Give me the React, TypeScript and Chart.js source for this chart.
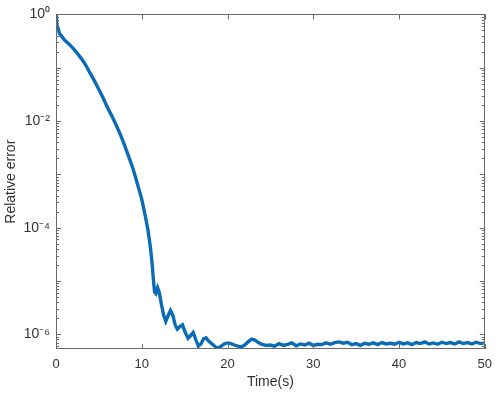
import React, { useEffect, useRef } from "react";
import { Chart, registerables } from "chart.js";

Chart.register(...registerables);

// Time (s)
const TIME: number[] = [
  0, 0.05, 0.12, 0.25, 0.4, 0.6, 1.0, 1.5, 2.0, 2.5, 3.0, 3.5, 4.0, 4.5, 5.0, 5.5, 6.0, 6.5, 7.0, 7.5,
  8.0, 8.5, 9.0, 9.5, 10.0, 10.4, 10.7, 11.0, 11.2, 11.35, 11.5, 11.65, 11.85, 12.05, 12.3, 12.55, 12.8,
  13.05, 13.35, 13.65, 13.9, 14.15, 14.45, 14.75, 15.05, 15.4, 15.7, 16.0, 16.3, 16.6, 16.9, 17.2, 17.5,
  17.8, 18.2, 18.6, 18.9, 19.2, 19.6, 20.0, 20.4, 20.8, 21.2, 21.6, 22.0, 22.4, 22.8, 23.2, 23.6, 24.0,
  24.5, 25.0, 25.5, 26.0, 26.5, 27.0, 27.5, 28.0, 28.5, 29.0, 29.5, 30.0, 30.5, 31.0, 31.5, 32.0, 32.5,
  33.0, 33.5, 34.0, 34.5, 35.0, 35.5, 36.0, 36.5, 37.0, 37.5, 38.0, 38.5, 39.0, 39.5, 40.0, 40.5, 41.0,
  41.5, 42.0, 42.5, 43.0, 43.5, 44.0, 44.5, 45.0, 45.5, 46.0, 46.5, 47.0, 47.5, 48.0, 48.5, 49.0, 49.5, 50.0,
];

// Relative error
const REL_ERROR: number[] = [
  1.0, 0.85, 0.62, 0.55, 0.44, 0.4, 0.33, 0.28, 0.23, 0.185, 0.145, 0.11, 0.078, 0.056, 0.039, 0.027, 0.018,
  0.0125, 0.0085, 0.0056, 0.0035, 0.0021, 0.00125, 6.6e-4, 3.4e-4, 1.7e-4, 9.5e-5, 4.4e-5, 2.2e-5, 1.1e-5,
  6.2e-6, 5.8e-6, 7.4e-6, 6.0e-6, 3.6e-6, 2.3e-6, 1.75e-6, 2.2e-6, 2.8e-6, 2.2e-6, 1.5e-6, 1.25e-6, 1.4e-6,
  1.5e-6, 1.1e-6, 8.4e-7, 9.5e-7, 1.08e-6, 8.0e-7, 6.0e-7, 6.6e-7, 8.2e-7, 8.6e-7, 7.5e-7, 6.6e-7, 5.8e-7,
  5.5e-7, 5.9e-7, 6.6e-7, 6.9e-7, 6.7e-7, 6.3e-7, 6.0e-7, 5.8e-7, 6.3e-7, 7.2e-7, 8.1e-7, 7.8e-7, 7.0e-7,
  6.5e-7, 6.2e-7,
  6.3e-7, 6.0e-7, 6.7e-7, 6.2e-7, 6.5e-7, 6.9e-7, 6.1e-7, 6.6e-7, 6.3e-7, 6.8e-7,
  6.2e-7, 6.5e-7, 6.4e-7, 6.9e-7, 6.5e-7, 7.0e-7, 7.2e-7, 6.8e-7, 7.1e-7, 6.4e-7,
  6.7e-7, 6.2e-7, 6.8e-7, 6.5e-7, 6.9e-7, 6.4e-7, 7.0e-7, 6.6e-7, 6.8e-7, 6.5e-7,
  7.1e-7, 6.6e-7, 6.9e-7, 6.4e-7, 7.0e-7, 6.7e-7, 7.2e-7, 6.6e-7, 6.9e-7, 6.5e-7,
  7.1e-7, 6.7e-7, 7.0e-7, 6.6e-7, 7.2e-7, 6.7e-7, 7.0e-7, 6.6e-7, 7.1e-7, 6.7e-7,
  6.9e-7,
];

const X_TICKS: number[] = [0, 10, 20, 30, 40, 50];
const Y_TICK_VALUES: number[] = [1e-6, 1e-4, 1e-2, 1];
const Y_TICK_LABELS: string[] = ["10\u207B\u2076", "10\u207B\u2074", "10\u207B\u00B2", "10\u2070"];

const FONT = "'Liberation Sans', Arial, Helvetica, sans-serif";
const AXIS_COLOR = "#6a6a6a";
const TEXT_COLOR = "#333333";

const boxPlugin = {
  id: "matlabBox",
  afterDraw(chart: any) {
    const { ctx, chartArea } = chart;
    const { left, right, top, bottom } = chartArea;
    const xs = chart.scales.x;
    const ys = chart.scales.y;
    ctx.save();
    ctx.strokeStyle = AXIS_COLOR;
    ctx.lineWidth = 1;
    ctx.strokeRect(Math.round(left) + 0.5, Math.round(top) + 0.5, Math.round(right - left) - 1, Math.round(bottom - top) - 1);
    ctx.beginPath();
    for (const v of X_TICKS) {
      const px = Math.round(xs.getPixelForValue(v)) + 0.5;
      ctx.moveTo(px, bottom);
      ctx.lineTo(px, bottom - 5);
      ctx.moveTo(px, top);
      ctx.lineTo(px, top + 5);
    }
    for (let k = -7; k <= 0; k++) {
      for (let m = 1; m <= 9; m++) {
        const v = m * Math.pow(10, k);
        if (v < ys.min || v > ys.max) continue;
        const py = Math.round(ys.getPixelForValue(v)) + 0.5;
        const len = m === 1 ? 5 : 3;
        ctx.moveTo(left, py);
        ctx.lineTo(left + len, py);
        ctx.moveTo(right, py);
        ctx.lineTo(right - len, py);
      }
    }
    ctx.stroke();
    ctx.restore();
  },
};

export default function App() {
  const ref = useRef<HTMLCanvasElement | null>(null);

  useEffect(() => {
    document.body.style.margin = "0";
    const canvas = ref.current;
    if (!canvas) return;
    const chart = new Chart(canvas, {
      type: "line",
      data: {
        datasets: [
          {
            data: TIME.map((t, i) => ({ x: t, y: REL_ERROR[i] })),
            borderColor: "#0b6cb6",
            borderWidth: 3.4,
            pointRadius: 0,
            tension: 0,
            fill: false,
          },
        ],
      },
      options: {
        animation: false,
        responsive: false,
        maintainAspectRatio: false,
        layout: { padding: { top: 7, right: 11, left: 0, bottom: 0 } },
        plugins: { legend: { display: false }, tooltip: { enabled: false } },
        scales: {
          x: {
            type: "linear",
            min: 0,
            max: 50,
            grid: { display: false, drawTicks: false },
            border: { display: false },
            afterBuildTicks: (scale: any) => {
              scale.ticks = X_TICKS.map((v) => ({ value: v }));
            },
            afterFit: (scale: any) => {
              scale.height = 44;
            },
            ticks: {
              padding: 8,
              color: TEXT_COLOR,
              font: { family: FONT, size: 13 },
              maxRotation: 0,
              callback: (v: any) => String(v),
            },
            title: {
              display: true,
              text: "Time(s)",
              color: TEXT_COLOR,
              font: { family: FONT, size: 14 },
              padding: { top: 0, bottom: 2 },
            },
          },
          y: {
            type: "logarithmic",
            min: 5.3e-7,
            max: 1,
            grid: { display: false, drawTicks: false },
            border: { display: false },
            afterBuildTicks: (scale: any) => {
              scale.ticks = Y_TICK_VALUES.map((v) => ({ value: v }));
            },
            afterFit: (scale: any) => {
              scale.width = 56;
            },
            ticks: {
              padding: 6,
              color: TEXT_COLOR,
              font: { family: FONT, size: 14 },
              callback: (v: any) => {
                const i = Y_TICK_VALUES.findIndex((t) => Math.abs(t - v) / t < 1e-6);
                return i >= 0 ? Y_TICK_LABELS[i] : "";
              },
            },
            title: {
              display: true,
              text: "Relative error",
              color: TEXT_COLOR,
              font: { family: FONT, size: 14 },
              padding: { top: 3, bottom: 0 },
            },
          },
        },
      },
      plugins: [boxPlugin],
    });
    return () => chart.destroy();
  }, []);

  return (
    <div style={{ width: 500, height: 393, background: "#fff" }}>
      <canvas ref={ref} width={500} height={393} style={{ display: "block" }} />
    </div>
  );
}
